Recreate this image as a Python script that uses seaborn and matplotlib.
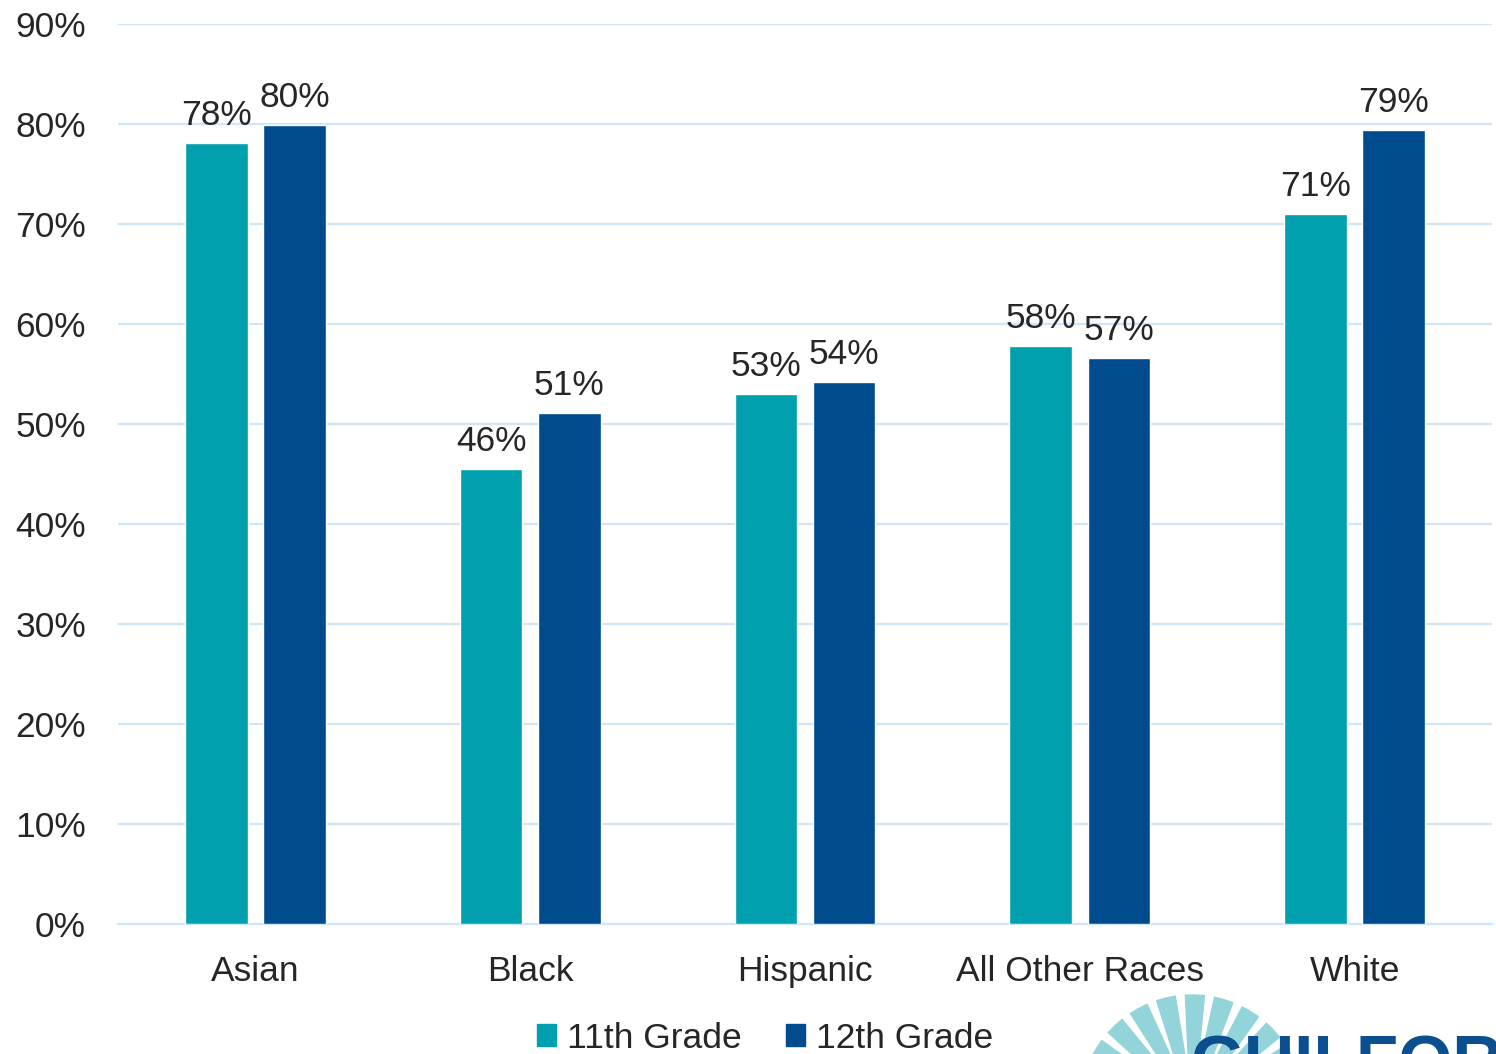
import numpy as np
import pandas as pd
import matplotlib
matplotlib.use("Agg")
import matplotlib.pyplot as plt
from matplotlib.patches import Wedge, Polygon
from matplotlib.transforms import IdentityTransform
from matplotlib.ticker import FuncFormatter, MultipleLocator
import seaborn as sns

# Share of students by race/ethnicity and grade (percent)
groups = ["Asian", "Black", "Hispanic", "All Other Races", "White"]
grade_11 = [78.1, 45.5, 53.0, 57.8, 71.0]
grade_12 = [79.9, 51.1, 54.2, 56.6, 79.4]
grades = ["11th Grade", "12th Grade"]

df = pd.DataFrame({
    "group": groups * 2,
    "grade": [grades[0]] * len(groups) + [grades[1]] * len(groups),
    "value": grade_11 + grade_12,
})

TEAL = "#00A0AE"
NAVY = "#004B8D"
GRID = "#CFE5FA"
TEXT = "#262626"
FS = 25.5

sns.set_theme(style="white")
plt.rcParams["font.family"] = ["Liberation Sans", "DejaVu Sans"]

fig = plt.figure(figsize=(14.96, 10.54), dpi=100)
ax = fig.add_axes([118 / 1496, 1 - 924 / 1054, (1492 - 118) / 1496, (924 - 24) / 1054])

sns.barplot(data=df, x="group", y="value", hue="grade", order=groups,
            hue_order=grades, palette=[TEAL, NAVY], width=0.57, gap=0.2,
            saturation=1, ax=ax, legend=False, zorder=3)

ax.set_xlim(-0.5, 4.5)
ax.set_ylim(0, 90)
ax.yaxis.set_major_locator(MultipleLocator(10))
ax.yaxis.set_major_formatter(FuncFormatter(lambda v, p: f"{v:.0f}%"))
ax.grid(axis="y", color=GRID, linewidth=1.6, zorder=0)
ax.set_axisbelow(True)
for s in ["top", "right", "left"]:
    ax.spines[s].set_visible(False)
ax.spines["bottom"].set_color(GRID)
ax.spines["bottom"].set_linewidth(1.6)
ax.set_xlabel("")
ax.set_ylabel("")
ax.tick_params(axis="both", length=0, labelsize=FS, labelcolor=TEXT)
ax.tick_params(axis="y", pad=23)
ax.tick_params(axis="x", pad=22)

for cont in ax.containers:
    ax.bar_label(cont, labels=[f"{v:.0f}%" for v in cont.datavalues],
                 padding=8, fontsize=FS, color=TEXT)

handles = [plt.Rectangle((0, 0), 1, 1, color=c) for c in (TEAL, NAVY)]
fig.legend(handles, grades, loc="center", bbox_to_anchor=(765 / 1496, 1 - 1038 / 1054),
           ncol=2, frameon=False, fontsize=FS, handlelength=0.55, handleheight=0.55,
           handletextpad=0.3, columnspacing=1.25, labelcolor=TEXT,
           borderaxespad=0, borderpad=0)

# District logo at the lower right edge
ident = IdentityTransform()
cx, cy = 1192, 1054 - 1107
sun = Wedge((cx, cy), 112, 28, 185, width=62, color="#93D4DB",
            transform=ident, zorder=1)
fig.add_artist(sun)
for ang in np.arange(36, 185, 15):
    a0 = np.deg2rad(ang)
    da = np.deg2rad(2.0)
    pts = [(cx + 50 * np.cos(a0), cy + 50 * np.sin(a0)),
           (cx + 120 * np.cos(a0 - da), cy + 120 * np.sin(a0 - da)),
           (cx + 120 * np.cos(a0 + da), cy + 120 * np.sin(a0 + da))]
    fig.add_artist(Polygon(pts, closed=True, color="white", transform=ident, zorder=2))
fig.text(1190 / 1496, 1 - 1083 / 1054, "GUILFORD", fontsize=50, fontweight="bold",
         color="#0B4F8F", ha="left", va="baseline", zorder=3)

fig.savefig("out.png", dpi=100)
